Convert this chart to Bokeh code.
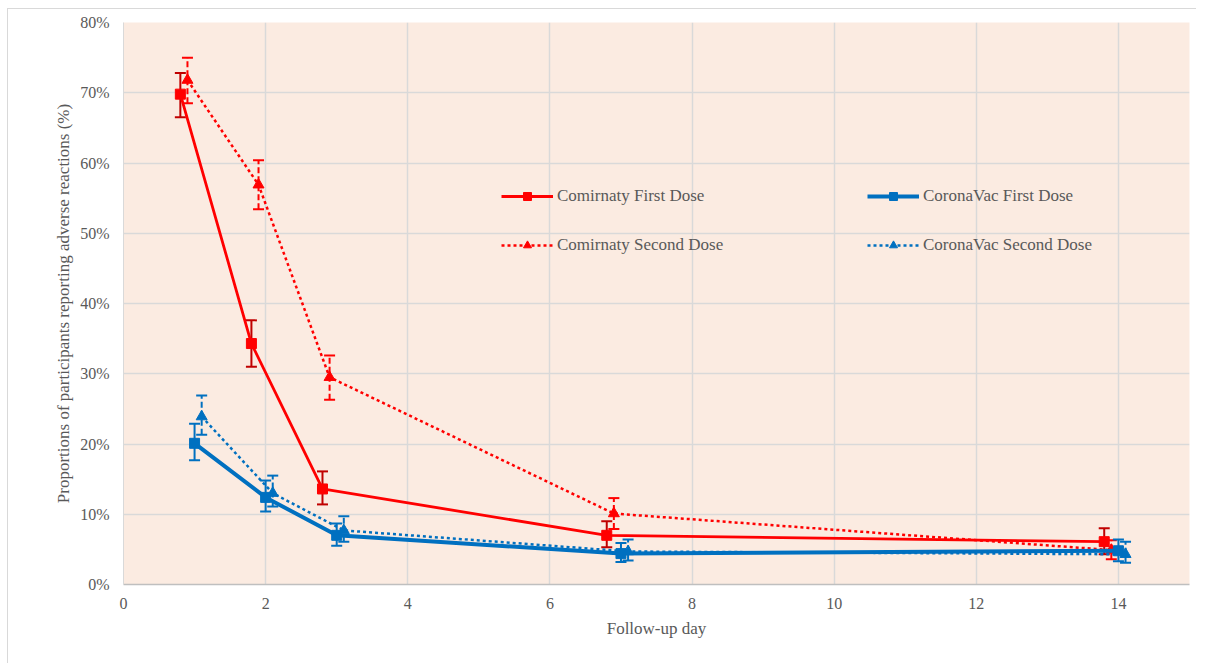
from bokeh.plotting import figure
from bokeh.models import (Range1d, Legend, LegendItem, Whisker, ColumnDataSource,
                          TeeHead, FixedTicker, PrintfTickFormatter)
from bokeh.embed import file_html
from bokeh.resources import INLINE

# ---- data ----
days = [1, 2, 3, 7, 14]
series_names = ["Comirnaty First Dose", "Comirnaty Second Dose",
                "CoronaVac First Dose", "CoronaVac Second Dose"]
comirnaty_first = [69.8, 34.3, 13.6, 7.0, 6.1]
comirnaty_first_lo = [66.5, 31.0, 11.4, 5.3, 4.3]
comirnaty_first_hi = [72.8, 37.6, 16.1, 9.0, 8.0]
comirnaty_second = [71.8, 56.9, 29.5, 10.1, 4.9]
comirnaty_second_lo = [68.5, 53.4, 26.3, 7.9, 3.6]
comirnaty_second_hi = [75.0, 60.4, 32.6, 12.3, 6.3]
coronavac_first = [20.1, 12.4, 7.0, 4.4, 4.8]
coronavac_first_lo = [17.7, 10.4, 5.5, 3.2, 3.3]
coronavac_first_hi = [22.9, 14.8, 8.7, 5.9, 6.4]
coronavac_second = [23.9, 13.0, 7.7, 4.7, 4.3]
coronavac_second_lo = [21.3, 11.1, 6.1, 3.4, 3.1]
coronavac_second_hi = [26.9, 15.5, 9.7, 6.4, 6.1]
x_ticks = [0, 2, 4, 6, 8, 10, 12, 14]
y_ticks = [0, 10, 20, 30, 40, 50, 60, 70, 80]

FONT = "Liberation Serif"
TXT = "#595959"
RED = "#FF0000"
DARKRED = "#C00000"
BLUE = "#0070C0"

p = figure(width=1189, height=655, output_backend="svg", toolbar_location=None,
           x_range=Range1d(0, 15), y_range=Range1d(0, 80),
           min_border_left=115, min_border_right=8, min_border_top=13,
           min_border_bottom=80)
p.styles = {"margin-top": "8px", "margin-left": "7px",
            "border-top": "1px solid #D9D9D9", "border-left": "1px solid #D9D9D9"}
p.background_fill_color = "#FBEBE1"
p.border_fill_color = "white"
p.outline_line_color = None

p.xaxis.ticker = FixedTicker(ticks=x_ticks)
p.yaxis.ticker = FixedTicker(ticks=y_ticks)
p.yaxis.formatter = PrintfTickFormatter(format="%d%%")
for ax in (p.xaxis[0], p.yaxis[0]):
    ax.major_tick_line_color = None
    ax.minor_tick_line_color = None
    ax.major_label_text_font = FONT
    ax.major_label_text_font_size = "16px"
    ax.major_label_text_color = TXT
    ax.axis_label_text_font = FONT
    ax.axis_label_text_font_size = "17px"
    ax.axis_label_text_color = TXT
    ax.axis_label_text_font_style = "normal"
p.xaxis.axis_line_color = "#BFBFBF"
p.xaxis.axis_line_width = 1.5
p.yaxis.axis_line_color = "#D9D9D9"
p.xaxis.axis_label = "Follow-up day"
p.yaxis.axis_label = "Proportions of participants reporting adverse reactions (%)"
p.xaxis.major_label_standoff = 7
p.xaxis.axis_label_standoff = 7
p.yaxis.major_label_standoff = 8
p.yaxis.axis_label_standoff = 4
p.xgrid.grid_line_color = "#D9D9D9"
p.ygrid.grid_line_color = "#D9D9D9"
p.xgrid.grid_line_width = 1.5
p.ygrid.grid_line_width = 1.5

specs = [
    (comirnaty_first, comirnaty_first_lo, comirnaty_first_hi, -0.2, RED, DARKRED, 2.8, "solid", "solid", "square"),
    (comirnaty_second, comirnaty_second_lo, comirnaty_second_hi, -0.1, RED, RED, 2.5, "3 3", "6 3", "triangle"),
    (coronavac_first, coronavac_first_lo, coronavac_first_hi, 0.0, BLUE, BLUE, 4.0, "solid", "solid", "square"),
    (coronavac_second, coronavac_second_lo, coronavac_second_hi, 0.1, BLUE, BLUE, 2.5, "3 3", "6 3", "triangle"),
]

items = []
for (vals, lo, hi, off, col, ecol, lw, dash, edash, mk), name in zip(specs, series_names):
    xs = [d + off for d in days]
    src = ColumnDataSource(dict(x=xs, y=vals, lo=lo, hi=hi))
    w = Whisker(base="x", upper="hi", lower="lo", source=src,
                line_color=ecol, line_width=2, line_dash=edash,
                upper_head=TeeHead(size=11, line_color=ecol, line_width=2),
                lower_head=TeeHead(size=11, line_color=ecol, line_width=2))
    p.add_layout(w)
    r1 = p.line("x", "y", source=src, line_color=col, line_width=lw, line_dash=dash)
    r2 = p.scatter("x", "y", source=src, marker=mk, size=10 if mk == "square" else 11,
                   fill_color=col, line_color=col)
    items.append(LegendItem(label=name, renderers=[r1, r2]))

for idx, xloc in ((0, 378), (2, 744)):
    lg = Legend(items=[items[idx], items[idx + 1]], location=(xloc, 329),
                orientation="vertical", glyph_width=52, glyph_height=20,
                label_height=20, spacing=29, label_standoff=4, padding=0, margin=0,
                background_fill_alpha=0, border_line_color=None,
                label_text_font=FONT, label_text_font_size="17px",
                label_text_color=TXT)
    p.add_layout(lg)

open("out.html", "w").write(file_html(p, INLINE))
